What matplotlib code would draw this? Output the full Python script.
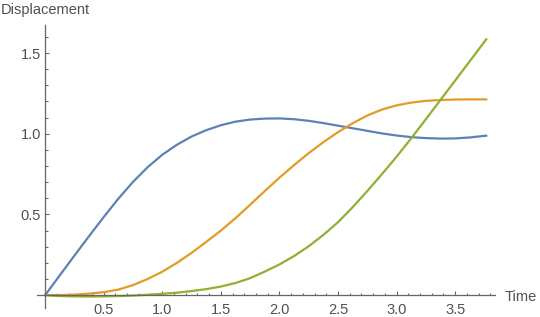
import matplotlib
matplotlib.use("Agg")
import matplotlib.pyplot as plt

t = [0, 0.125, 0.25, 0.375, 0.5, 0.625, 0.75, 0.875, 1.0, 1.125, 1.25, 1.375, 1.5,
     1.625, 1.75, 1.875, 2.0, 2.125, 2.25, 2.375, 2.5, 2.625, 2.75, 2.875, 3.0,
     3.125, 3.25, 3.375, 3.5, 3.625, 3.765]
blue = [0, 0.123, 0.245, 0.366, 0.484, 0.598, 0.702, 0.793, 0.87, 0.932, 0.983, 1.022, 1.053,
        1.075, 1.088, 1.094, 1.095, 1.09, 1.08, 1.066, 1.05, 1.034, 1.018, 1.002, 0.989,
        0.979, 0.973, 0.97, 0.971, 0.977, 0.988]
orange = [0, 0.0, 0.003, 0.009, 0.018, 0.034, 0.062, 0.1, 0.145, 0.2, 0.262, 0.33, 0.4,
          0.477, 0.56, 0.645, 0.728, 0.806, 0.88, 0.948, 1.01, 1.065, 1.113, 1.15, 1.176,
          1.193, 1.204, 1.209, 1.212, 1.213, 1.213]
green = [0, -0.006, -0.008, -0.009, -0.008, -0.006, -0.003, 0.002, 0.008, 0.015, 0.025, 0.037, 0.053,
         0.075, 0.105, 0.146, 0.19, 0.242, 0.303, 0.373, 0.452, 0.545, 0.645, 0.75, 0.858,
         0.972, 1.09, 1.21, 1.33, 1.45, 1.585]

x_major = [0.5, 1.0, 1.5, 2.0, 2.5, 3.0, 3.5]
y_major = [0.5, 1.0, 1.5]

axis_col = "#666666"
text_col = "#505050"
plt.rcParams['font.family'] = ['Liberation Sans', 'DejaVu Sans']

fig = plt.figure(figsize=(5.4, 3.17), dpi=100)
ax = fig.add_axes([37/540, 9/317, 458/540, 283/317])

ax.plot(t, blue, color="#5E81B5", lw=1.6, solid_joinstyle='round')
ax.plot(t, orange, color="#E19C24", lw=1.6, solid_joinstyle='round')
ax.plot(t, green, color="#8FB032", lw=1.6, solid_joinstyle='round')

ax.set_xlim(-0.07, 3.84)
ax.set_ylim(-0.08, 1.674)

for s in ['top', 'right']:
    ax.spines[s].set_visible(False)
ax.spines['left'].set_position(('data', 0))
ax.spines['bottom'].set_position(('data', 0))
for s in ['left', 'bottom']:
    ax.spines[s].set_color(axis_col)
    ax.spines[s].set_linewidth(0.9)

ax.set_xticks(x_major)
ax.set_xticklabels([f"{v:.1f}" for v in x_major])
ax.set_yticks(y_major)
ax.set_yticklabels([f"{v:.1f}" for v in y_major])
ax.set_xticks([round(0.1*i, 1) for i in range(1, 39) if i % 5], minor=True)
ax.set_yticks([round(0.1*i, 1) for i in range(1, 17) if i % 5], minor=True)

ax.tick_params(which='both', direction='in', color=axis_col, width=0.8, labelcolor=text_col, labelsize=10.5)
ax.tick_params(which='major', length=3.2)
ax.tick_params(which='minor', length=1.8)
ax.tick_params(axis='x', which='major', pad=6)
ax.tick_params(axis='y', which='major', pad=3)

fig.text(1/540, 1 - 10/317, "Displacement", ha='left', va='center', fontsize=10.5, color=text_col)
fig.text(505/540, 1 - 297/317, "Time", ha='left', va='center', fontsize=10.5, color=text_col)

fig.savefig("out.png", dpi=100)
